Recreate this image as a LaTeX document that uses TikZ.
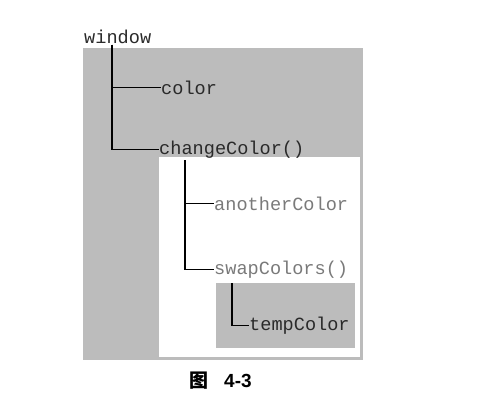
\documentclass[tikz,border=0pt]{standalone}
\usepackage{fontspec}
\setmonofont{Liberation Mono}
\newfontfamily\cjk{Noto Sans CJK SC}
\newfontfamily\capfont{Liberation Sans}
\usetikzlibrary{calc}
\definecolor{scopegray}{HTML}{BCBCBC}
\definecolor{darktext}{HTML}{2A2A2A}
\definecolor{softtext}{HTML}{7A7A7A}
\tikzset{
  lbl/.style={anchor=mid west, inner sep=0pt, font=\ttfamily\fontsize{18.6}{20}\selectfont, text=darktext},
  softlbl/.style={lbl, text=softtext},
  branch/.style={draw=black, line width=1.4pt},
}
\begin{document}
\begin{tikzpicture}[x=1pt,y=-1pt]
\useasboundingbox (0,0) rectangle (495,404);
% scopes
\fill[scopegray] (83,48) rectangle (363,360);
\fill[white] (159,157) rectangle (360,357);
\fill[scopegray] (216,283) rectangle (355,348);
% labels
\node[lbl] (window) at (84,41) {window};
\node[lbl] (color) at (161,92) {color};
\node[lbl] (change) at (159,152) {changeColor()};
\node[softlbl] (another) at (214,208) {anotherColor};
\node[softlbl] (swap) at (214,272) {swapColors()};
\node[lbl] (temp) at (249,328) {tempColor};
% caption
\node[anchor=west, inner sep=0pt, font=\capfont\bfseries\fontsize{19}{20}\selectfont] (cap) at (189,381) {{\cjk\bfseries 图}\hspace{16pt}4-3};
% connectors
\coordinate (w0) at ($(window.south west)+(28,1)$);
\draw[branch] (w0) |- (color.west);
\draw[branch] (w0) |- (change.west);
\coordinate (c0) at ($(change.south west)+(26,2)$);
\draw[branch] (c0) |- (another.west);
\draw[branch] (c0) |- (swap.west);
\coordinate (s0) at ($(swap.south west)+(18,5)$);
\draw[branch] (s0) |- (temp.west);
\end{tikzpicture}
\end{document}
